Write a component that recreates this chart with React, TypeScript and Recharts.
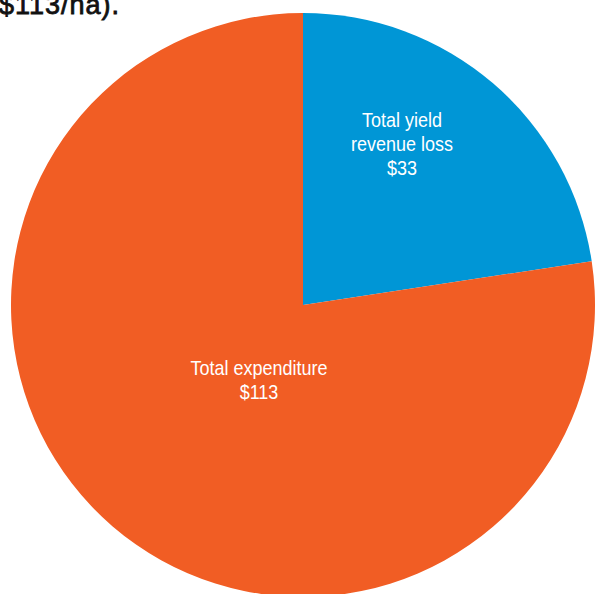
import { PieChart, Pie, Cell } from 'recharts';

// Per-hectare cost split ($/ha)
const sliceNames = ['Total yield revenue loss', 'Total expenditure'];
const sliceValues = [33, 113];
const sliceLines = [
  ['Total yield', 'revenue loss'],
  ['Total expenditure'],
];
const sliceColors = ['#0096d6', '#f15d24'];

// where each label block sits, relative to the pie centre
const labelOffsets = [
  { dx: 99, dy: -161 },
  { dx: -44, dy: 75 },
];

const data = sliceNames.map((name, i) => ({ name, value: sliceValues[i] }));

const LINE_H = 24;
const NARROW = 0.9; // squeeze the sans to a condensed look

const renderLabel = (props: any) => {
  const { cx, cy, index, value } = props;
  const lines = [...sliceLines[index], `$${value}`];
  const off = labelOffsets[index];
  const x = cx + off.dx;
  const top = cy + off.dy - ((lines.length - 1) * LINE_H) / 2;
  return (
    <text
      x={x}
      y={top}
      fill="#ffffff"
      textAnchor="middle"
      dominantBaseline="central"
      transform={`translate(${x} 0) scale(${NARROW} 1) translate(${-x} 0)`}
      style={{ fontFamily: '"Liberation Sans", Arial, sans-serif', fontSize: 20 }}
    >
      {lines.map((l, i) => (
        <tspan key={i} x={x} dy={i === 0 ? 0 : LINE_H}>
          {l}
        </tspan>
      ))}
    </text>
  );
};

export default function App() {
  return (
    <div
      style={{
        position: 'fixed',
        left: 0,
        top: 0,
        width: 595,
        height: 594,
        background: '#ffffff',
        overflow: 'hidden',
      }}
    >
      <div
        style={{
          position: 'absolute',
          left: -1,
          top: -8,
          fontFamily: '"Liberation Sans", Arial, sans-serif',
          fontSize: 27,
          fontWeight: 400,
          letterSpacing: 1,
          WebkitTextStroke: '0.8px #111111',
          color: '#111111',
          whiteSpace: 'nowrap',
          lineHeight: '27px',
        }}
      >
        $113/ha).
      </div>
      <PieChart width={595} height={594} margin={{ top: 0, right: 0, bottom: 0, left: 0 }}>
        <Pie
          data={data}
          dataKey="value"
          cx={303}
          cy={305}
          outerRadius={292}
          innerRadius={0}
          startAngle={90}
          endAngle={-270}
          stroke="none"
          label={renderLabel}
          labelLine={false}
          isAnimationActive={false}
        >
          {data.map((d, i) => (
            <Cell key={d.name} fill={sliceColors[i]} />
          ))}
        </Pie>
      </PieChart>
    </div>
  );
}
